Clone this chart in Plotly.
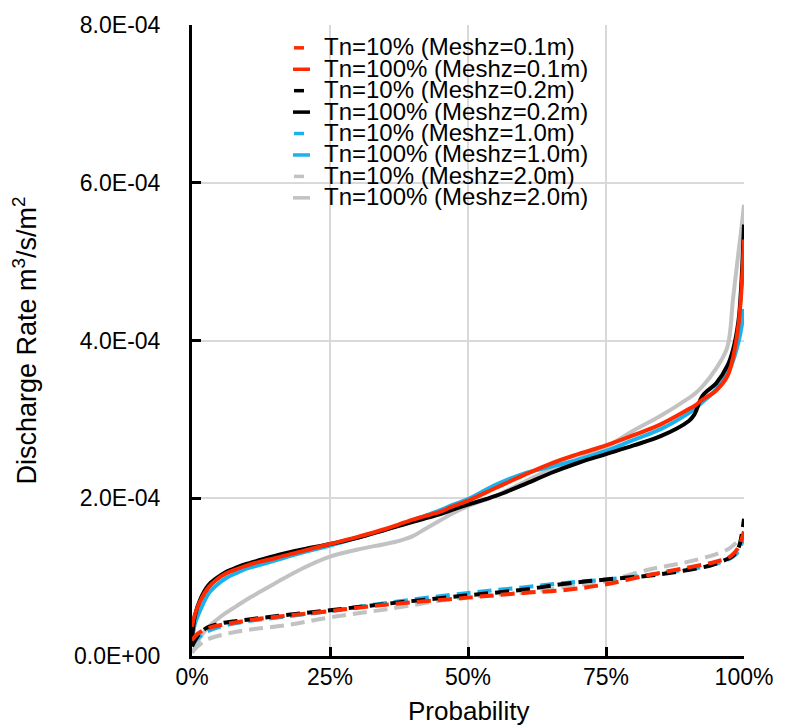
import plotly.graph_objects as go

# ---------------- data (discharge in units of 1e-4 m3/s/m2) ----------------
P_SOLID = [0, 0.005, 0.015, 0.03, 0.045, 0.06, 0.08, 0.1, 0.125, 0.15, 0.2, 0.25, 0.3, 0.35,
           0.375, 0.4, 0.42, 0.45, 0.47, 0.5, 0.55, 0.6, 0.65, 0.7, 0.75, 0.8, 0.85, 0.9,
           0.91, 0.925, 0.95, 0.97, 0.98, 0.99, 0.995, 1.0]
TN100_01 = [0.37, 0.52, 0.70, 0.87, 0.97, 1.04, 1.10, 1.15, 1.20, 1.24, 1.33, 1.42, 1.51, 1.61,
            1.67, 1.73, 1.77, 1.83, 1.89, 1.97, 2.13, 2.29, 2.44, 2.56, 2.67, 2.80, 2.94, 3.13,
            3.17, 3.25, 3.37, 3.55, 3.78, 4.20, 4.60, 5.28]
TN100_02 = [0.20, 0.50, 0.72, 0.90, 0.99, 1.06, 1.12, 1.17, 1.22, 1.27, 1.35, 1.42, 1.50, 1.60,
            1.65, 1.70, 1.74, 1.80, 1.85, 1.92, 2.03, 2.17, 2.32, 2.45, 2.56, 2.67, 2.79, 2.98,
            3.06, 3.30, 3.46, 3.68, 3.88, 4.25, 4.70, 5.47]
TN100_10 = [0.16, 0.40, 0.58, 0.79, 0.90, 0.98, 1.05, 1.11, 1.16, 1.21, 1.31, 1.40, 1.50, 1.60,
            1.66, 1.72, 1.77, 1.85, 1.91, 1.99, 2.17, 2.31, 2.40, 2.49, 2.60, 2.74, 2.88, 3.08,
            3.13, 3.22, 3.38, 3.58, 3.74, 3.98, 4.15, 4.40]
TN100_20 = [0.04, 0.10, 0.24, 0.37, 0.46, 0.54, 0.63, 0.72, 0.82, 0.92, 1.11, 1.26, 1.35, 1.42,
            1.46, 1.52, 1.60, 1.72, 1.80, 1.90, 2.03, 2.20, 2.37, 2.50, 2.65, 2.86, 3.05, 3.27,
            3.32, 3.42, 3.65, 3.92, 4.52, 5.12, 5.40, 5.72]

P_DASH = [0, 0.01, 0.025, 0.05, 0.1, 0.17, 0.25, 0.35, 0.5, 0.6, 0.68, 0.75, 0.83, 0.89,
          0.94, 0.97, 0.98, 0.99, 1.0]
TN10_01 = [0.20, 0.28, 0.34, 0.39, 0.45, 0.51, 0.57, 0.65, 0.74, 0.80, 0.84, 0.91, 1.03, 1.11,
           1.18, 1.24, 1.29, 1.38, 1.58]
TN10_02 = [0.12, 0.25, 0.35, 0.41, 0.46, 0.52, 0.58, 0.66, 0.77, 0.84, 0.92, 0.97, 1.02, 1.08,
           1.15, 1.23, 1.27, 1.37, 1.74]
TN10_10 = [0.14, 0.22, 0.30, 0.37, 0.44, 0.50, 0.57, 0.67, 0.80, 0.87, 0.93, 0.97, 1.03, 1.09,
           1.15, 1.22, 1.26, 1.33, 1.52]
TN10_20 = [0.05, 0.12, 0.20, 0.26, 0.33, 0.39, 0.49, 0.59, 0.75, 0.80, 0.88, 0.95, 1.10, 1.18,
           1.27, 1.35, 1.40, 1.46, 1.50]

UNIT = 1e-4

LEGEND_LABELS = ["Tn=10% (Meshz=0.1m)", "Tn=100% (Meshz=0.1m)",
                 "Tn=10% (Meshz=0.2m)", "Tn=100% (Meshz=0.2m)",
                 "Tn=10% (Meshz=1.0m)", "Tn=100% (Meshz=1.0m)",
                 "Tn=10% (Meshz=2.0m)", "Tn=100% (Meshz=2.0m)"]

X_TITLE = "Probability"
Y_TITLE = "Discharge Rate m<sup>3</sup>/s/m<sup>2</sup>"
X_TICKVALS = [0, 0.25, 0.5, 0.75, 1.0]
X_TICKTEXT = ["0%", "25%", "50%", "75%", "100%"]
Y_TICKVALS = [0, 2e-4, 4e-4, 6e-4, 8e-4]
Y_TICKTEXT = ["0.0E+00", "2.0E-04", "4.0E-04", "6.0E-04", "8.0E-04"]

RED = "#FF2A00"
BLACK = "#000000"
BLUE = "#1AB2EE"
GRAY = "#C2C2C2"

# (label index, x, y, color, dashed)
SERIES = [
    (7, P_SOLID, TN100_20, GRAY, False),
    (6, P_DASH, TN10_20, GRAY, True),
    (5, P_SOLID, TN100_10, BLUE, False),
    (4, P_DASH, TN10_10, BLUE, True),
    (3, P_SOLID, TN100_02, BLACK, False),
    (2, P_DASH, TN10_02, BLACK, True),
    (1, P_SOLID, TN100_01, RED, False),
    (0, P_DASH, TN10_01, RED, True),
]

FONT = "Liberation Sans, Arial, sans-serif"

fig = go.Figure()
for idx, xs, ys, col, dashed in SERIES:
    fig.add_trace(go.Scatter(
        x=xs, y=[v * UNIT for v in ys], mode="lines",
        name=LEGEND_LABELS[idx], showlegend=False, cliponaxis=False,
        line=dict(color=col, width=4, dash="14px,7px" if dashed else "solid",
                  shape="spline", smoothing=1.0),
    ))

# manual legend (compact spacing like the original)
L, T, W, H = 192, 20, 552, 636
def px_x(px):
    return (px - L) / W
def px_y(py):
    return (T + H - py) / H

colors = [RED, RED, BLACK, BLACK, BLUE, BLUE, GRAY, GRAY]
for i, lab in enumerate(LEGEND_LABELS):
    cy = 43 + 21.6 * i
    dashed = (i % 2 == 0)
    x0, x1 = (294, 304) if dashed else (293, 310)
    fig.add_shape(type="line", xref="paper", yref="paper",
                  x0=px_x(x0), x1=px_x(x1), y0=px_y(cy), y1=px_y(cy),
                  line=dict(color=colors[i], width=3.5))
    fig.add_annotation(xref="paper", yref="paper", x=px_x(322), y=px_y(cy - 1),
                       xanchor="left", yanchor="middle", showarrow=False,
                       text=lab, font=dict(family=FONT, size=24, color="#000"))

# x-axis title placed under the tick labels, as in the original
fig.add_annotation(xref="paper", yref="paper", x=0.5, y=px_y(711),
                   xanchor="center", yanchor="middle", showarrow=False,
                   text=X_TITLE, font=dict(family=FONT, size=26, color="#000"))

fig.update_layout(
    width=787, height=726,
    margin=dict(l=L, r=787 - L - W, t=T, b=726 - T - H),
    plot_bgcolor="white", paper_bgcolor="white",
    font=dict(family=FONT, color="#000"),
    xaxis=dict(range=[0, 1], tickvals=X_TICKVALS, ticktext=X_TICKTEXT,
               showgrid=True, gridcolor="#D9D9D9", gridwidth=2,
               showline=True, linecolor="#000", linewidth=3,
               ticks="inside", ticklen=9, tickwidth=2.5, tickcolor="#000",
               tickfont=dict(size=23), zeroline=False, ticklabelstandoff=-2),
    yaxis=dict(range=[0, 8e-4], tickvals=Y_TICKVALS, ticktext=Y_TICKTEXT,
               showgrid=True, gridcolor="#D9D9D9", gridwidth=2,
               showline=True, linecolor="#000", linewidth=3,
               ticks="inside", ticklen=9, tickwidth=2.5, tickcolor="#000",
               tickfont=dict(size=23), zeroline=False, ticklabelstandoff=24,
               title=dict(text=Y_TITLE, font=dict(size=27), standoff=30)),
)

fig.write_html("out.html")
